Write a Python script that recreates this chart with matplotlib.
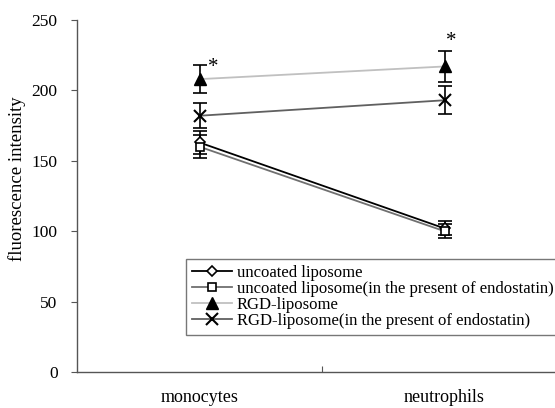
import numpy as np
import matplotlib.pyplot as plt

plt.rcParams['font.family'] = ['Liberation Serif', 'DejaVu Serif']

# dati
cells = ['monocytes', 'neutrophils']
uncoated = [163, 102]
uncoated_err = [8, 5]
uncoated_endo = [160, 100]
uncoated_endo_err = [8, 5]
rgd = [208, 217]
rgd_err = [10, 11]
rgd_endo = [182, 193]
rgd_endo_err = [9, 10]

labels = ['uncoated liposome',
          'uncoated liposome(in the present of endostatin)',
          'RGD-liposome',
          'RGD-liposome(in the present of endostatin)']

x = np.arange(len(cells)) + 0.5

fig = plt.figure(figsize=(5.55, 4.08), dpi=100)
ax = fig.add_axes([77/555, 36/408, 490/555, 352/408])

# barre di errore (senza linee)
for vals, err in [(uncoated, uncoated_err), (uncoated_endo, uncoated_endo_err),
                  (rgd, rgd_err), (rgd_endo, rgd_endo_err)]:
    ax.errorbar(x, vals, yerr=err, fmt='none', ecolor='black',
                elinewidth=1.2, capsize=5, capthick=1.2, zorder=3)

# serie
ax.plot(x, uncoated, color='black', lw=1.3, marker='D', ms=5,
        mfc='white', mec='black', mew=1.2, label=labels[0], zorder=4)
ax.plot(x, uncoated_endo, color='#707070', lw=1.3, marker='s', ms=6,
        mfc='white', mec='black', mew=1.2, label=labels[1], zorder=4)
ax.plot(x, rgd, color='#c0c0c0', lw=1.3, marker='^', ms=8,
        mfc='black', mec='black', label=labels[2], zorder=4)
ax.plot(x, rgd_endo, color='#606060', lw=1.3, marker='x', ms=8,
        mec='black', mew=1.5, label=labels[3], zorder=4)

# asterischi di significatività
ax.text(0.555, 216, '*', fontsize=15, ha='center', va='center')
ax.text(1.527, 235, '*', fontsize=15, ha='center', va='center')

ax.set_xlim(0, 2)
ax.set_ylim(0, 250)
ax.set_yticks([0, 50, 100, 150, 200, 250])
ax.set_xticks([1])
ax.set_xticklabels([''])
ax.set_xticks(x, minor=True)
ax.set_xticklabels(cells, minor=True, fontsize=13)
ax.tick_params(axis='x', which='major', direction='in', length=4, color='#555555')
ax.tick_params(axis='x', which='minor', length=0, pad=12)
ax.tick_params(axis='y', direction='out', length=4, pad=10, labelsize=12.5,
               color='#555555')

for s in ['top', 'right']:
    ax.spines[s].set_visible(False)
for s in ['left', 'bottom']:
    ax.spines[s].set_color('#555555')
    ax.spines[s].set_linewidth(1.0)

ax.set_ylabel('fluorescence intensity', fontsize=13.5)
ax.yaxis.set_label_coords(-0.104, 0.55)

leg = ax.legend(loc='upper left', bbox_to_anchor=(186/555, 1 - 259/408),
                bbox_transform=fig.transFigure, fontsize=12, frameon=True,
                fancybox=False, edgecolor='#555555', borderaxespad=0,
                handlelength=2.4, handletextpad=0.3, labelspacing=0.0,
                borderpad=0.35)
leg.get_frame().set_linewidth(1.0)

plt.savefig('out.png', dpi=100)
